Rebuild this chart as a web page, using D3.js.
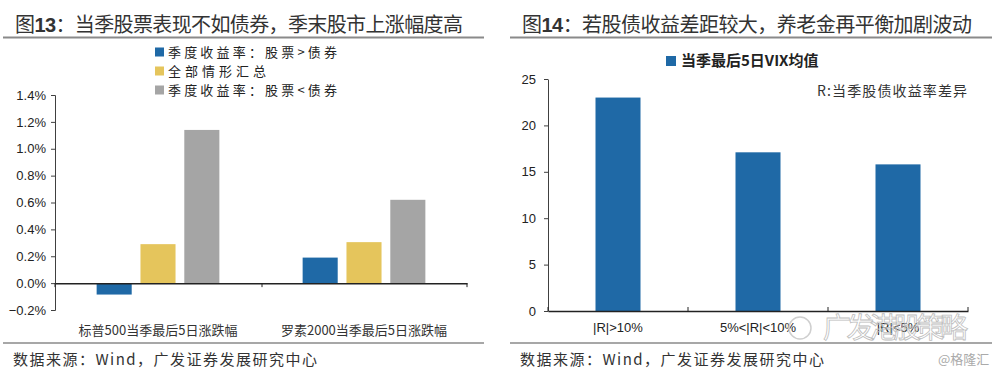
<!DOCTYPE html>
<html><head><meta charset="utf-8">
<script src="https://cdn.jsdelivr.net/npm/d3@7"></script>
<style>body{margin:0;background:#fff}svg{display:block}</style>
</head><body>
<svg id="c" width="1000" height="374"></svg>
<script>
// ---- Data ----
const leftCategories = ["标普500当季最后5日涨跌幅", "罗素2000当季最后5日涨跌幅"];
const leftSeriesNames = ["季度收益率：股票>债券", "全部情形汇总", "季度收益率：股票<债券"];
const seriesStockGtBond = [-0.085, 0.19];
const seriesAll = [0.29, 0.305];
const seriesStockLtBond = [1.14, 0.62];
const leftTicks = [-0.2, 0, 0.2, 0.4, 0.6, 0.8, 1.0, 1.2, 1.4];

const rightCategories = ["|R|>10%", "5%<|R|<10%", "|R|<5%"];
const rightSeriesName = "当季最后5日VIX均值";
const vixValues = [23.0, 17.1, 15.8];
const rightTicks = [0, 5, 10, 15, 20, 25];

const colors = ["#1F69A6", "#E5C55C", "#A5A5A5"];
const font = "'Noto Sans CJK SC', 'Noto Sans', sans-serif";
const numFont = "'Liberation Sans', Arial, sans-serif";

const svg = d3.select("#c");

function header(x0, x1, titleX, titleW, title, num) {
  const t = svg.append("text").attr("x", titleX).attr("y", 32)
    .attr("font-family", font).attr("font-size", 20).attr("fill", "#333")
    .attr("textLength", titleW).attr("lengthAdjust", "spacing");
  t.append("tspan").text("图");
  t.append("tspan").attr("font-family", numFont).attr("font-weight", "bold").text(num);
  t.append("tspan").text(title);
  svg.append("line").attr("x1", x0).attr("x2", x1).attr("y1", 37.5).attr("y2", 37.5)
    .attr("stroke", "#8a8a8a").attr("stroke-width", 2);
  svg.append("line").attr("x1", x0).attr("x2", x1).attr("y1", 343).attr("y2", 343)
    .attr("stroke", "#8a8a8a").attr("stroke-width", 1.5);
}

// ---------- Left chart ----------
header(3, 484, 15, 448, "：当季股票表现不如债券，季末股市上涨幅度高", "13");

const yL = d3.scaleLinear().domain([-0.2, 1.4]).range([310, 95]);
const xL = d3.scaleBand().domain(leftCategories).range([55, 467]);
const xLs = d3.scaleBand().domain([0, 1, 2]).range([0, xL.bandwidth()]).paddingInner(0.2).paddingOuter(0.95);

const gyL = svg.append("g").attr("transform", "translate(55,0)")
  .call(d3.axisLeft(yL).tickValues(leftTicks).tickSizeOuter(0).tickSize(4)
    .tickFormat(d => d3.format(".1f")(d) + "%"));
gyL.select(".domain").attr("stroke", "#404040");
gyL.selectAll(".tick line").attr("stroke", "#404040");
gyL.selectAll("text").attr("font-family", numFont).attr("font-size", 13).attr("fill", "#222").attr("x", -9);

const leftSeries = [seriesStockGtBond, seriesAll, seriesStockLtBond];
leftSeries.forEach((vals, si) => {
  svg.append("g").selectAll("rect").data(vals).join("rect")
    .attr("x", (d, i) => xL(leftCategories[i]) + xLs(si))
    .attr("width", xLs.bandwidth())
    .attr("y", d => yL(Math.max(0, d)))
    .attr("height", d => Math.abs(yL(d) - yL(0)))
    .attr("fill", colors[si]);
});

const gxL = svg.append("g").attr("transform", `translate(0,${yL(0)})`)
  .call(d3.axisBottom(xL).tickSize(4).tickSizeOuter(0).tickFormat(""));
gxL.select(".domain").attr("stroke", "#222").attr("stroke-width", 1.5);
gxL.selectAll(".tick line").remove();
[55, 262, 467].forEach(x => svg.append("line").attr("x1", x).attr("x2", x)
  .attr("y1", yL(0)).attr("y2", yL(0) + 4).attr("stroke", "#222"));

svg.append("g").selectAll("text").data(leftCategories).join("text")
  .attr("x", d => xL(d) + xL.bandwidth() / 2).attr("y", 335)
  .attr("text-anchor", "middle").attr("font-family", font).attr("font-size", 13)
  .attr("fill", "#333").text(d => d);

const legL = svg.append("g");
const legW = [169, 98, 169];
leftSeriesNames.forEach((n, i) => {
  const y = 52 + i * 19;
  legL.append("rect").attr("x", 155).attr("y", y - 4.5).attr("width", 9).attr("height", 9).attr("fill", colors[i]);
  legL.append("text").attr("x", 168).attr("y", y + 4.5).attr("font-family", font)
    .attr("font-size", 13).attr("fill", "#222")
    .attr("textLength", legW[i]).attr("lengthAdjust", "spacing").text(n);
});

svg.append("text").attr("x", 13).attr("y", 365).attr("font-family", font).attr("font-size", 15)
  .attr("fill", "#333").attr("textLength", 304).attr("lengthAdjust", "spacing")
  .text("数据来源：Wind，广发证券发展研究中心");

// ---------- Right chart ----------
header(510, 992, 522, 450, "：若股债收益差距较大，养老金再平衡加剧波动", "14");

const yR = d3.scaleLinear().domain([0, 25]).range([311, 79]);
const xR = d3.scaleBand().domain(rightCategories).range([548, 968]);

const gyR = svg.append("g").attr("transform", "translate(548,0)")
  .call(d3.axisLeft(yR).tickValues(rightTicks).tickSize(4).tickSizeOuter(0));
gyR.select(".domain").attr("stroke", "#404040");
gyR.selectAll(".tick line").attr("stroke", "#404040");
gyR.selectAll("text").attr("font-family", numFont).attr("font-size", 13).attr("fill", "#222").attr("x", -12);

const bw = 45;
svg.append("g").selectAll("rect").data(vixValues).join("rect")
  .attr("x", (d, i) => xR(rightCategories[i]) + xR.bandwidth() / 2 - bw / 2)
  .attr("width", bw)
  .attr("y", d => yR(d)).attr("height", d => yR(0) - yR(d))
  .attr("fill", colors[0]);

const gxR = svg.append("g").attr("transform", `translate(0,${yR(0)})`)
  .call(d3.axisBottom(xR).tickSize(0).tickSizeOuter(0).tickFormat(""));
gxR.select(".domain").attr("stroke", "#222").attr("stroke-width", 1.5);
[548, 688, 828, 968].forEach(x => svg.append("line").attr("x1", x).attr("x2", x)
  .attr("y1", yR(0) - 4).attr("y2", yR(0)).attr("stroke", "#222"));

svg.append("g").selectAll("text").data(rightCategories).join("text")
  .attr("x", d => xR(d) + xR.bandwidth() / 2).attr("y", 332)
  .attr("text-anchor", "middle").attr("font-family", numFont).attr("font-size", 13)
  .attr("fill", "#222").text(d => d);

svg.append("rect").attr("x", 666).attr("y", 56).attr("width", 10).attr("height", 10).attr("fill", colors[0]);
svg.append("text").attr("x", 681).attr("y", 66).attr("font-family", font).attr("font-size", 15)
  .attr("font-weight", "bold").attr("fill", "#222").text(rightSeriesName);

svg.append("text").attr("x", 817).attr("y", 96).attr("font-family", font).attr("font-size", 14)
  .attr("fill", "#333").attr("textLength", 150).attr("lengthAdjust", "spacing")
  .text("R:当季股债收益率差异");

svg.append("text").attr("x", 520).attr("y", 365).attr("font-family", font).attr("font-size", 15)
  .attr("fill", "#333").attr("textLength", 304).attr("lengthAdjust", "spacing")
  .text("数据来源：Wind，广发证券发展研究中心");

// watermarks
svg.append("circle").attr("cx", 800).attr("cy", 328).attr("r", 11).attr("fill", "none")
  .attr("stroke", "#cfcfcf").attr("stroke-width", 1.5);
svg.append("text").attr("x", 823).attr("y", 338).attr("font-family", font).attr("font-size", 28)
  .attr("fill", "none").attr("stroke", "#bdbdbd").attr("stroke-width", 0.8)
  .attr("textLength", 145).attr("lengthAdjust", "spacing").text("广发港股策略");
svg.append("text").attr("x", 938).attr("y", 364).attr("font-family", font).attr("font-size", 13)
  .attr("fill", "#aaa").text("@格隆汇");
</script>
</body></html>
